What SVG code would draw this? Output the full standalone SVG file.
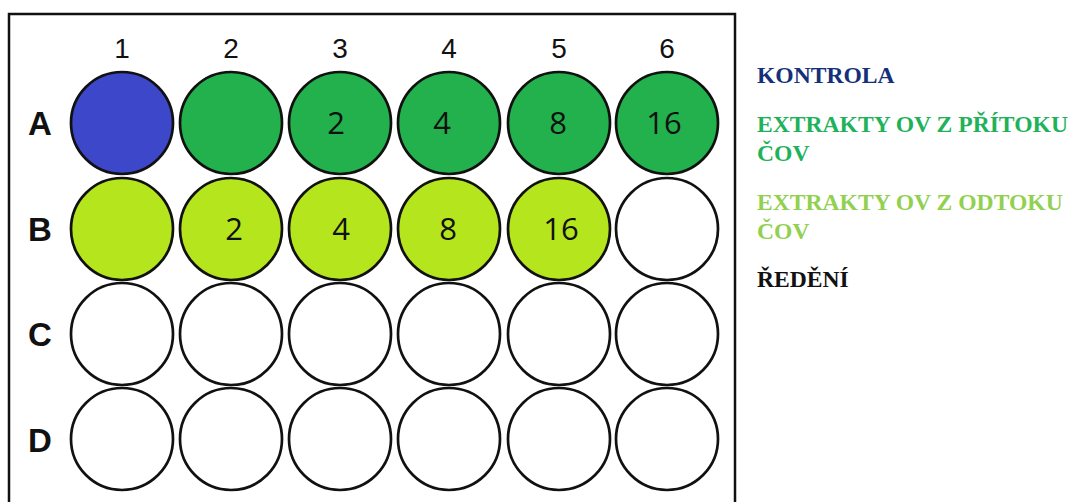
<svg xmlns="http://www.w3.org/2000/svg" width="1073" height="502" viewBox="0 0 1073 502">
<style>
.w{stroke:#111;stroke-width:2.7;fill:#fff}
.blue{fill:#3d47c9}
.green{fill:#22b14c}
.lime{fill:#b5e61d}
.col{font-family:"Liberation Sans",Arial,sans-serif;font-size:28px;text-anchor:middle;fill:#111}
.row{font-family:"Liberation Sans",Arial,sans-serif;font-size:33px;font-weight:bold;text-anchor:middle;fill:#111}
.num{font-family:"Open Sans","Liberation Sans",sans-serif;font-size:31px;text-anchor:middle;fill:#111}
.leg{font-family:"Liberation Serif","Times New Roman",serif;font-size:23.6px;font-weight:bold}
</style>
<rect x="0" y="0" width="1073" height="502" fill="#fff"/>
<g id="plate">
<rect x="9" y="14" width="726" height="500" fill="#fff" stroke="#111" stroke-width="2.5"/>
<text class="col" x="122" y="58">1</text>
<text class="col" x="231" y="58">2</text>
<text class="col" x="340" y="58">3</text>
<text class="col" x="449" y="58">4</text>
<text class="col" x="559" y="58">5</text>
<text class="col" x="667" y="58">6</text>
<text class="row" x="40" y="135">A</text>
<text class="row" x="40" y="241">B</text>
<text class="row" x="40" y="346">C</text>
<text class="row" x="40" y="452">D</text>
</g>
<g id="rowA">
<circle class="w blue" cx="122" cy="123" r="51"/>
<circle class="w green" cx="231" cy="123" r="51"/>
<circle class="w green" cx="340" cy="123" r="51"/>
<circle class="w green" cx="449" cy="123" r="51"/>
<circle class="w green" cx="559" cy="123" r="51"/>
<circle class="w green" cx="667" cy="123" r="51"/>
<text class="num" x="336" y="134">2</text>
<text class="num" x="442" y="134">4</text>
<text class="num" x="558" y="134">8</text>
<text class="num" x="664" y="134">16</text>
</g>
<g id="rowB">
<circle class="w lime" cx="122" cy="229" r="51"/>
<circle class="w lime" cx="231" cy="229" r="51"/>
<circle class="w lime" cx="340" cy="229" r="51"/>
<circle class="w lime" cx="449" cy="229" r="51"/>
<circle class="w lime" cx="559" cy="229" r="51"/>
<circle class="w" cx="667" cy="229" r="51"/>
<text class="num" x="234" y="240">2</text>
<text class="num" x="341" y="240">4</text>
<text class="num" x="448" y="240">8</text>
<text class="num" x="561" y="240">16</text>
</g>
<g id="rowC">
<circle class="w" cx="122" cy="334" r="51"/>
<circle class="w" cx="231" cy="334" r="51"/>
<circle class="w" cx="340" cy="334" r="51"/>
<circle class="w" cx="449" cy="334" r="51"/>
<circle class="w" cx="559" cy="334" r="51"/>
<circle class="w" cx="667" cy="334" r="51"/>
</g>
<g id="rowD">
<circle class="w" cx="122" cy="439" r="51"/>
<circle class="w" cx="231" cy="439" r="51"/>
<circle class="w" cx="340" cy="439" r="51"/>
<circle class="w" cx="449" cy="439" r="51"/>
<circle class="w" cx="559" cy="439" r="51"/>
<circle class="w" cx="667" cy="439" r="51"/>
</g>
<g id="legend">
<text class="leg" x="757" y="83" fill="#14307a">KONTROLA</text>
<text class="leg" x="757" y="132" fill="#1fb25a">EXTRAKTY OV Z PŘÍTOKU</text>
<text class="leg" x="757" y="161" fill="#1fb25a">ČOV</text>
<text class="leg" x="757" y="210" fill="#92d050">EXTRAKTY OV Z ODTOKU</text>
<text class="leg" x="757" y="239" fill="#92d050">ČOV</text>
<text class="leg" x="757" y="287" fill="#111">ŘEDĚNÍ</text>
</g>
<g id="connectors"></g>
</svg>
